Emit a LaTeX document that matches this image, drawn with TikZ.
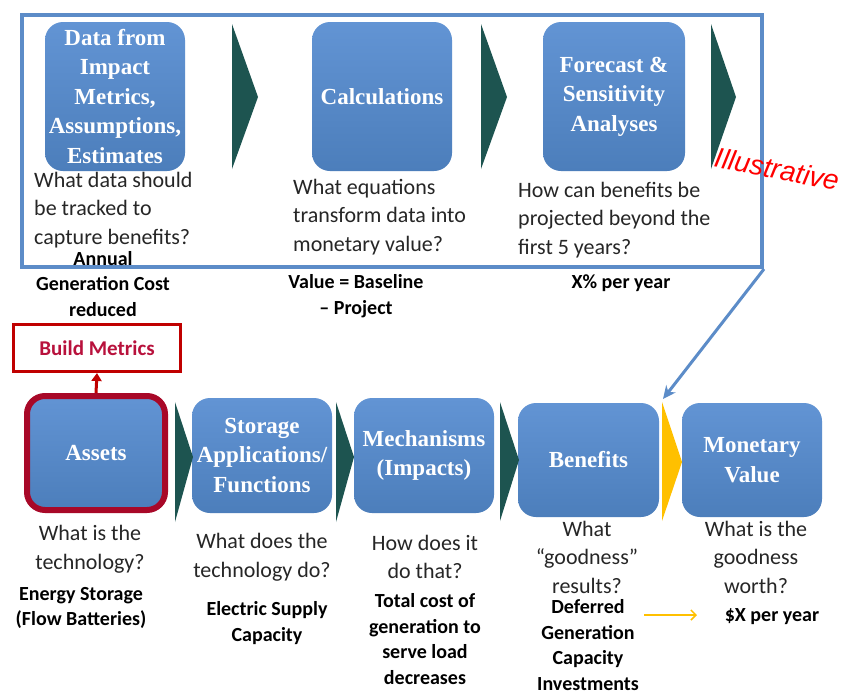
\documentclass[tikz,border=0pt]{standalone}
\usepackage{fontspec}
\usepackage{xcolor}
\usetikzlibrary{arrows.meta}
\newfontfamily\calibrifont{Carlito}
\newfontfamily\cambriafont{Liberation Serif}
\newfontfamily\arialfont{Liberation Sans}
\definecolor{boxblue}{RGB}{76,126,187}
\definecolor{boxtop}{RGB}{98,148,212}
\definecolor{chevgreen}{RGB}{29,84,80}
\definecolor{chevyellow}{RGB}{255,192,0}
\definecolor{frameblue}{RGB}{92,140,200}
\definecolor{metricred}{RGB}{192,0,0}
\definecolor{metrictext}{RGB}{184,17,60}
\definecolor{assetred}{RGB}{168,8,40}
\definecolor{qgrey}{RGB}{38,38,38}
\tikzset{
    step-box/.style = {rectangle, rounded corners=18pt, top color=boxtop, bottom color=boxblue, text=white, align=center, inner sep=2pt, font=\cambriafont\bfseries\fontsize{23}{29.5}\selectfont},
    chevron/.style = {fill=chevgreen},
    question/.style = {text=qgrey, inner sep=0pt, font=\calibrifont\fontsize{22}{28.5}\selectfont},
    note/.style = {text=black, align=center, inner sep=0pt, font=\calibrifont\bfseries\fontsize{20}{25.5}\selectfont},
    blue-link/.style = {draw=frameblue, line width=3pt, -{Stealth[length=13pt,width=12pt]}},
}

\begin{document}
\begin{tikzpicture}[x=1pt, y=-1pt]
\useasboundingbox[fill=white] (0,0) rectangle (844,691);

% upper row: how the value is worked out
\node[draw=frameblue, line width=4pt, minimum width=740pt, minimum height=252pt] (calcframe) at (392,141) {};
\node[step-box, minimum width=140pt, minimum height=149pt] (data) at (115,96.5) {Data from\\Impact\\Metrics,\\Assumptions,\\Estimates};
\node[step-box, minimum width=140pt, minimum height=149pt] (calc) at (382,96.5) {Calculations};
\node[step-box, minimum width=142pt, minimum height=149pt] (forecast) at (614,96.5) {Forecast \&\\Sensitivity\\Analyses};
\fill[chevron] (232,24) -- (258,97) -- (232,169) -- cycle;
\fill[chevron] (481,24) -- (507,97) -- (481,169) -- cycle;
\fill[chevron] (711,24) -- (736,97) -- (711,169) -- cycle;

\node[question, anchor=north west, align=left] (q-data) at (34,172) {What data should\\be tracked to\\capture benefits?};
\node[question, anchor=north west, align=left] (q-calc) at (293,179) {What equations\\transform data into\\monetary value?};
\node[question, anchor=north west, align=left] (q-forecast) at (518,182) {How can benefits be\\projected beyond the\\first 5 years?};
\node[text=red, rotate=-11, inner sep=0pt, font=\arialfont\itshape\fontsize{28}{30}\selectfont] (illus) at (777,169) {Illustrative};

\node[note] (n-annual) at (103,284) {Annual\\Generation Cost\\reduced};
\node[note] (n-value) at (356,296) {Value = Baseline\\– Project};
\node[note] (n-rate) at (621,283) {X\% per year};

% lower row: the benefit chain
\node[draw=metricred, line width=3pt, minimum width=167pt, minimum height=47pt, text=metrictext, font=\calibrifont\bfseries\fontsize{21}{24}\selectfont] (build) at (97,348) {Build Metrics};
\node[step-box, draw=assetred, line width=6pt, minimum width=138pt, minimum height=114pt] (assets) at (96,453) {Assets};
\node[step-box, minimum width=140pt, minimum height=115pt] (storage) at (262,455.5) {Storage\\Applications/\\Functions};
\node[step-box, minimum width=140pt, minimum height=115pt] (mech) at (424,455.5) {Mechanisms\\(Impacts)};
\node[step-box, minimum width=141pt, minimum height=114pt] (benefits) at (588.5,460) {Benefits};
\node[step-box, minimum width=140pt, minimum height=114pt] (money) at (752,460) {Monetary\\Value};
\fill[chevron] (175,402) -- (193,457) -- (175,522) -- cycle;
\fill[chevron] (336,402) -- (354,457) -- (336,522) -- cycle;
\fill[chevron] (500,402) -- (519,460) -- (500,521) -- cycle;
\fill[chevyellow] (662,402) -- (682,462) -- (662,521) -- cycle;

\draw[metricred, line width=3pt, -{Triangle[length=8pt,width=10pt]}] (assets.north) -- (build.south);
\coordinate (frame-tip) at (663,399);
\draw[blue-link] (calcframe.south east) -- (frame-tip);

\node[question, align=center] (q-assets) at (90,549) {What is the\\technology?};
\node[question, align=center] (q-storage) at (262,557) {What does the\\technology do?};
\node[question, align=center] (q-mech) at (425,557) {How does it\\do that?};
\node[question, align=center] (q-benefits) at (587,557) {What\\“goodness”\\results?};
\node[question, align=center] (q-money) at (756,557) {What is the\\goodness\\worth?};

\node[note] (n-energy) at (81,608) {Energy Storage\\(Flow Batteries)};
\node[note] (n-supply) at (267,623) {Electric Supply\\Capacity};
\node[note] (n-total) at (425,639) {Total cost of\\generation to\\serve load\\decreases};
\node[note] (n-deferred) at (588,645) {Deferred\\Generation\\Capacity\\Investments};
\node[note] (n-dollar) at (772,617) {\$X per year};
\coordinate (gold-start) at (644,615);
\coordinate (gold-end) at (697,615);
\draw[chevyellow, line width=1.5pt, -{Straight Barb[length=5pt,width=10pt]}] (gold-start) -- (gold-end);
\end{tikzpicture}
\end{document}
